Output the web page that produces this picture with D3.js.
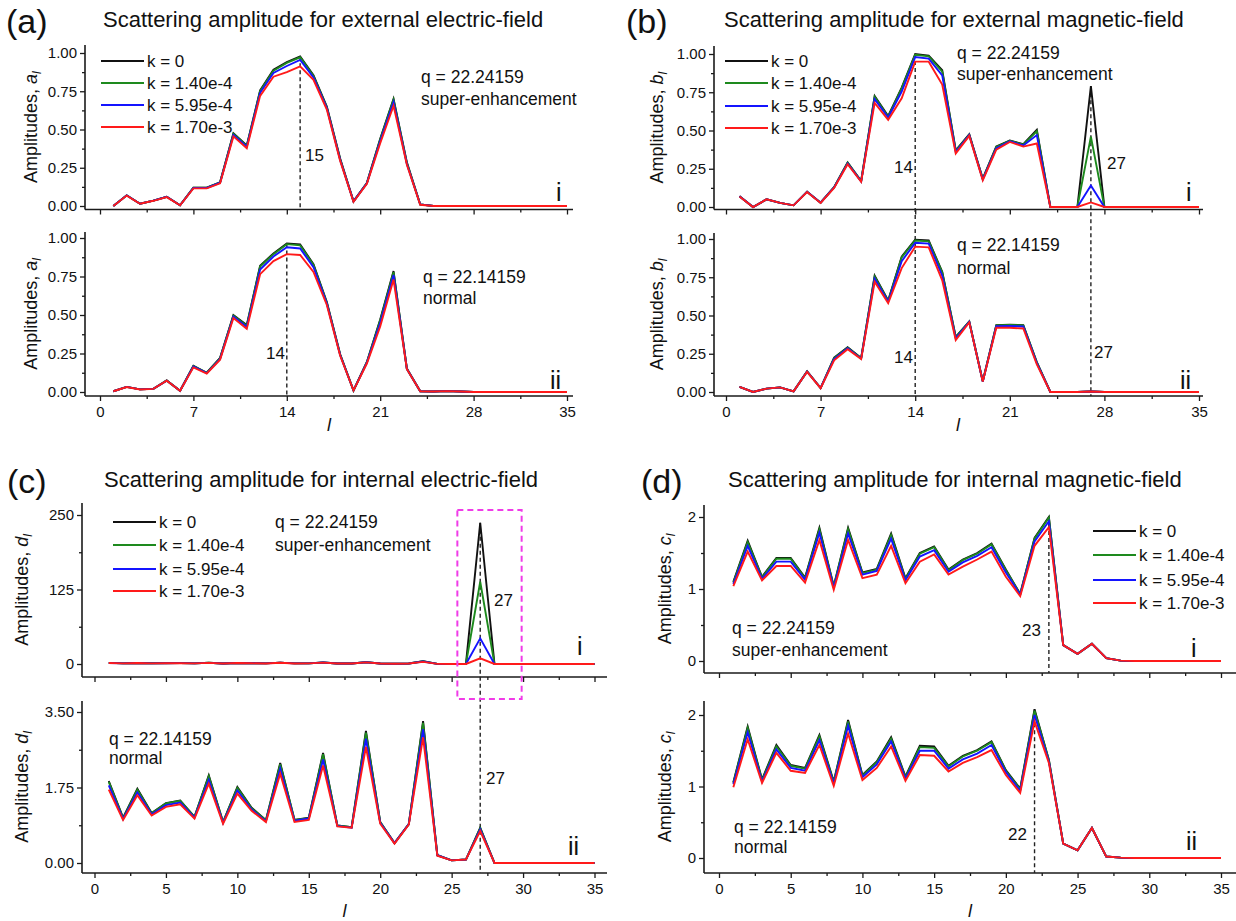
<!DOCTYPE html>
<html>
<head>
<meta charset="utf-8">
<title>Scattering amplitudes</title>
<style>
  body { margin: 0; background: #fff; }
  svg { display: block; font-family: "Liberation Sans", Arial, Helvetica, sans-serif; }
</style>
</head>
<body>
<div id="chart"></div>
<script src="https://d3js.org/d3.v7.min.js"></script>
<script>
// mode index l (x values shared by every panel)
const lValues = [1, 2, 3, 4, 5, 6, 7, 8, 9, 10, 11, 12, 13, 14, 15, 16, 17, 18, 19, 20,
                 21, 22, 23, 24, 25, 26, 27, 28, 29, 30, 31, 32, 33, 34, 35];

const seriesNames = ["k = 0", "k = 1.40e-4", "k = 5.95e-4", "k = 1.70e-3"];
const seriesColors = ["#111111", "#1e8a1e", "#1414ff", "#ff1a1a"];

// each panel: rows are k = 0, 1.40e-4, 5.95e-4, 1.70e-3
// (a) i  external electric, q = 22.24159
const extElecSuper = [
  [0.000, 0.070, 0.015, 0.035, 0.060, 0.005, 0.120, 0.120, 0.155, 0.475, 0.395, 0.755, 0.890, 0.940, 0.978, 0.855, 0.650, 0.310, 0.030, 0.150, 0.440, 0.700, 0.285, 0.010, 0, 0, 0, 0, 0, 0, 0, 0, 0, 0, 0],
  [0.000, 0.070, 0.015, 0.035, 0.060, 0.005, 0.120, 0.120, 0.155, 0.472, 0.392, 0.750, 0.885, 0.935, 0.972, 0.850, 0.645, 0.305, 0.030, 0.150, 0.435, 0.695, 0.280, 0.010, 0, 0, 0, 0, 0, 0, 0, 0, 0, 0, 0],
  [0.000, 0.070, 0.015, 0.035, 0.060, 0.005, 0.118, 0.118, 0.152, 0.465, 0.387, 0.740, 0.870, 0.915, 0.955, 0.840, 0.640, 0.300, 0.030, 0.148, 0.425, 0.680, 0.275, 0.010, 0, 0, 0, 0, 0, 0, 0, 0, 0, 0, 0],
  [0.000, 0.068, 0.015, 0.034, 0.058, 0.005, 0.115, 0.115, 0.148, 0.455, 0.378, 0.720, 0.845, 0.875, 0.913, 0.825, 0.630, 0.295, 0.028, 0.145, 0.410, 0.655, 0.270, 0.008, 0, 0, 0, 0, 0, 0, 0, 0, 0, 0, 0]
];
// (a) ii  external electric, q = 22.14159
const extElecNormal = [
  [0.005, 0.033, 0.017, 0.020, 0.075, 0.008, 0.170, 0.125, 0.222, 0.500, 0.435, 0.820, 0.900, 0.965, 0.958, 0.830, 0.585, 0.245, 0.010, 0.195, 0.470, 0.785, 0.152, 0.005, 0.003, 0.006, 0.003, 0, 0, 0, 0, 0, 0, 0, 0],
  [0.005, 0.033, 0.017, 0.020, 0.075, 0.008, 0.168, 0.125, 0.220, 0.497, 0.430, 0.815, 0.895, 0.960, 0.952, 0.825, 0.580, 0.243, 0.010, 0.193, 0.465, 0.778, 0.150, 0.005, 0.003, 0.006, 0.003, 0, 0, 0, 0, 0, 0, 0, 0],
  [0.005, 0.033, 0.017, 0.020, 0.074, 0.008, 0.165, 0.123, 0.215, 0.490, 0.422, 0.795, 0.880, 0.940, 0.932, 0.810, 0.575, 0.240, 0.010, 0.190, 0.450, 0.760, 0.150, 0.005, 0.003, 0.006, 0.003, 0, 0, 0, 0, 0, 0, 0, 0],
  [0.005, 0.032, 0.016, 0.020, 0.073, 0.008, 0.160, 0.120, 0.210, 0.480, 0.410, 0.765, 0.850, 0.895, 0.890, 0.780, 0.565, 0.235, 0.010, 0.185, 0.425, 0.730, 0.148, 0.005, 0.003, 0.006, 0.003, 0, 0, 0, 0, 0, 0, 0, 0]
];
// (b) i  external magnetic, q = 22.24159
const extMagSuper = [
  [0.070, 0, 0.050, 0.027, 0.011, 0.100, 0.028, 0.130, 0.290, 0.170, 0.725, 0.595, 0.780, 1.000, 0.990, 0.895, 0.370, 0.475, 0.185, 0.395, 0.435, 0.410, 0.505, 0, 0, 0, 0.790, 0, 0, 0, 0, 0, 0, 0, 0],
  [0.070, 0, 0.050, 0.027, 0.011, 0.100, 0.028, 0.130, 0.290, 0.170, 0.720, 0.590, 0.775, 0.995, 0.985, 0.885, 0.368, 0.473, 0.184, 0.392, 0.433, 0.408, 0.495, 0, 0, 0, 0.460, 0, 0, 0, 0, 0, 0, 0, 0],
  [0.070, 0, 0.050, 0.027, 0.011, 0.100, 0.028, 0.128, 0.285, 0.168, 0.705, 0.585, 0.755, 0.980, 0.970, 0.860, 0.360, 0.470, 0.180, 0.385, 0.430, 0.402, 0.470, 0, 0, 0, 0.140, 0, 0, 0, 0, 0, 0, 0, 0],
  [0.068, 0, 0.050, 0.027, 0.011, 0.098, 0.027, 0.125, 0.280, 0.165, 0.680, 0.570, 0.710, 0.950, 0.950, 0.800, 0.350, 0.465, 0.175, 0.375, 0.425, 0.395, 0.415, 0, 0, 0, 0.030, 0, 0, 0, 0, 0, 0, 0, 0]
];
// (b) ii  external magnetic, q = 22.14159
const extMagNormal = [
  [0.033, 0, 0.022, 0.030, 0.004, 0.135, 0.026, 0.225, 0.292, 0.222, 0.760, 0.598, 0.885, 0.995, 0.990, 0.785, 0.360, 0.460, 0.070, 0.437, 0.440, 0.437, 0.195, 0, 0, 0, 0.003, 0, 0, 0, 0, 0, 0, 0, 0],
  [0.033, 0, 0.022, 0.030, 0.004, 0.135, 0.026, 0.222, 0.290, 0.221, 0.755, 0.595, 0.880, 0.990, 0.985, 0.780, 0.358, 0.460, 0.070, 0.435, 0.438, 0.435, 0.193, 0, 0, 0, 0.003, 0, 0, 0, 0, 0, 0, 0, 0],
  [0.033, 0, 0.022, 0.030, 0.004, 0.134, 0.026, 0.215, 0.286, 0.218, 0.740, 0.590, 0.855, 0.975, 0.970, 0.760, 0.350, 0.458, 0.069, 0.430, 0.432, 0.428, 0.188, 0, 0, 0, 0.003, 0, 0, 0, 0, 0, 0, 0, 0],
  [0.033, 0, 0.022, 0.030, 0.004, 0.132, 0.025, 0.207, 0.280, 0.215, 0.720, 0.580, 0.810, 0.950, 0.945, 0.730, 0.340, 0.455, 0.068, 0.420, 0.420, 0.415, 0.180, 0, 0, 0, 0.003, 0, 0, 0, 0, 0, 0, 0, 0]
];
// (c) i  internal electric, q = 22.24159
const intElecSuper = [
  [1.90, 1.05, 1.72, 1.16, 1.39, 1.45, 1.07, 2.03, 0.95, 1.76, 1.28, 0.99, 2.32, 1.00, 1.05, 2.55, 0.87, 0.83, 3.06, 0.95, 0.46, 0.90, 4.80, 0.20, 0.06, 0.10, 237, 0, 0, 0, 0, 0, 0, 0, 0],
  [1.88, 1.04, 1.70, 1.15, 1.38, 1.44, 1.07, 2.01, 0.95, 1.74, 1.27, 0.99, 2.29, 1.00, 1.04, 2.52, 0.87, 0.83, 3.02, 0.95, 0.46, 0.90, 4.60, 0.20, 0.06, 0.10, 138, 0, 0, 0, 0, 0, 0, 0, 0],
  [1.80, 1.02, 1.64, 1.13, 1.34, 1.40, 1.05, 1.93, 0.93, 1.68, 1.24, 0.97, 2.19, 0.98, 1.03, 2.40, 0.86, 0.82, 2.88, 0.93, 0.46, 0.90, 4.20, 0.19, 0.06, 0.10, 43, 0, 0, 0, 0, 0, 0, 0, 0],
  [1.70, 1.00, 1.57, 1.10, 1.30, 1.36, 1.03, 1.84, 0.91, 1.61, 1.21, 0.95, 2.07, 0.95, 1.00, 2.26, 0.85, 0.82, 2.69, 0.91, 0.45, 0.89, 3.60, 0.17, 0.06, 0.08, 9.5, 0, 0, 0, 0, 0, 0, 0, 0]
];
// (c) ii  internal electric, q = 22.14159
const intElecNormal = [
  [1.90, 1.05, 1.72, 1.16, 1.39, 1.45, 1.07, 2.03, 0.95, 1.76, 1.28, 0.99, 2.32, 1.00, 1.05, 2.55, 0.87, 0.83, 3.06, 0.95, 0.46, 0.90, 3.29, 0.18, 0.06, 0.08, 0.82, 0, 0, 0, 0, 0, 0, 0, 0],
  [1.88, 1.04, 1.70, 1.15, 1.38, 1.44, 1.07, 2.01, 0.95, 1.74, 1.27, 0.99, 2.29, 1.00, 1.04, 2.52, 0.87, 0.83, 3.02, 0.95, 0.46, 0.90, 3.25, 0.18, 0.06, 0.08, 0.81, 0, 0, 0, 0, 0, 0, 0, 0],
  [1.80, 1.02, 1.64, 1.13, 1.34, 1.40, 1.05, 1.93, 0.93, 1.68, 1.24, 0.97, 2.19, 0.98, 1.03, 2.40, 0.86, 0.82, 2.88, 0.93, 0.46, 0.90, 3.10, 0.18, 0.06, 0.08, 0.78, 0, 0, 0, 0, 0, 0, 0, 0],
  [1.70, 1.00, 1.57, 1.10, 1.30, 1.36, 1.03, 1.84, 0.91, 1.61, 1.21, 0.95, 2.07, 0.95, 1.00, 2.26, 0.85, 0.82, 2.69, 0.91, 0.45, 0.89, 2.91, 0.17, 0.06, 0.08, 0.74, 0, 0, 0, 0, 0, 0, 0, 0]
];
// (d) i  internal magnetic, q = 22.24159
const intMagSuper = [
  [1.10, 1.67, 1.17, 1.43, 1.43, 1.16, 1.85, 1.04, 1.85, 1.23, 1.28, 1.77, 1.15, 1.50, 1.59, 1.27, 1.41, 1.50, 1.63, 1.27, 0.93, 1.71, 2.00, 0.22, 0.10, 0.24, 0.04, 0.005, 0, 0, 0, 0, 0, 0, 0],
  [1.09, 1.65, 1.16, 1.42, 1.42, 1.15, 1.83, 1.04, 1.83, 1.22, 1.27, 1.75, 1.14, 1.49, 1.58, 1.26, 1.40, 1.49, 1.62, 1.26, 0.93, 1.70, 1.99, 0.22, 0.10, 0.24, 0.04, 0.005, 0, 0, 0, 0, 0, 0, 0],
  [1.07, 1.60, 1.14, 1.38, 1.38, 1.13, 1.78, 1.02, 1.77, 1.20, 1.25, 1.70, 1.12, 1.45, 1.54, 1.24, 1.37, 1.46, 1.58, 1.23, 0.92, 1.66, 1.94, 0.22, 0.10, 0.24, 0.04, 0.005, 0, 0, 0, 0, 0, 0, 0],
  [1.04, 1.52, 1.12, 1.32, 1.32, 1.09, 1.68, 0.99, 1.68, 1.15, 1.20, 1.60, 1.08, 1.38, 1.48, 1.20, 1.31, 1.41, 1.52, 1.17, 0.90, 1.60, 1.86, 0.22, 0.10, 0.24, 0.04, 0.005, 0, 0, 0, 0, 0, 0, 0]
];
// (d) ii  internal magnetic, q = 22.14159
const intMagNormal = [
  [1.06, 1.84, 1.10, 1.58, 1.30, 1.26, 1.72, 1.07, 1.93, 1.16, 1.35, 1.69, 1.14, 1.57, 1.56, 1.29, 1.43, 1.51, 1.63, 1.23, 0.97, 2.08, 1.37, 0.20, 0.107, 0.42, 0.02, 0.005, 0, 0, 0, 0, 0, 0, 0],
  [1.05, 1.82, 1.09, 1.56, 1.29, 1.25, 1.70, 1.06, 1.91, 1.15, 1.34, 1.67, 1.13, 1.55, 1.54, 1.28, 1.42, 1.50, 1.62, 1.22, 0.96, 2.06, 1.37, 0.20, 0.107, 0.42, 0.02, 0.005, 0, 0, 0, 0, 0, 0, 0],
  [1.03, 1.76, 1.07, 1.52, 1.26, 1.22, 1.65, 1.04, 1.85, 1.13, 1.31, 1.63, 1.11, 1.50, 1.50, 1.25, 1.38, 1.46, 1.58, 1.20, 0.94, 2.00, 1.35, 0.20, 0.107, 0.42, 0.02, 0.005, 0, 0, 0, 0, 0, 0, 0],
  [0.99, 1.66, 1.05, 1.47, 1.22, 1.19, 1.58, 1.01, 1.74, 1.09, 1.26, 1.56, 1.08, 1.44, 1.43, 1.21, 1.33, 1.41, 1.51, 1.16, 0.91, 1.91, 1.33, 0.20, 0.107, 0.42, 0.02, 0.005, 0, 0, 0, 0, 0, 0, 0]
];

// tick labels
const extTicksX = [0, 7, 14, 21, 28, 35];
const extMinorX = [3.5, 10.5, 17.5, 24.5, 31.5];
const intTicksX = [0, 5, 10, 15, 20, 25, 30, 35];
const intMinorX = [2.5, 7.5, 12.5, 17.5, 22.5, 27.5, 32.5];
const extTicksY = [0, 0.25, 0.5, 0.75, 1];
const extMinorY = [0.125, 0.375, 0.625, 0.875];
const dSuperTicksY = [0, 125, 250];
const dSuperMinorY = [62.5, 187.5];
const dNormalTicksY = [0, 1.75, 3.5];
const dNormalMinorY = [0.875, 2.625];
const cTicksY = [0, 1, 2];
const cMinorY = [0.5, 1.5];

const AXIS = "#1a1a1a";
const TEXT = "#111";

const svg = d3.select("#chart").append("svg")
    .attr("width", 1236)
    .attr("height", 921);

svg.append("rect").attr("width", 1236).attr("height", 921).attr("fill", "#fff");

function styleAxis(sel) {
    sel.selectAll(".tick line").attr("stroke", AXIS).attr("stroke-width", 1.3);
    sel.selectAll(".tick text")
        .attr("fill", TEXT)
        .style("font-size", "15px")
        .style("font-family", '"Liberation Sans", Arial, sans-serif');
    sel.select(".domain").remove();
}

function addText(x, y, str, size, opts = {}) {
    return svg.append("text")
        .attr("x", x).attr("y", y)
        .attr("fill", TEXT)
        .attr("text-anchor", opts.anchor || "start")
        .style("font-size", size + "px")
        .style("font-style", opts.italic ? "italic" : "normal")
        .text(str);
}

// one sub-plot (i or ii) of a panel
function drawSubplot(o) {
    const g = svg.append("g");
    const x = d3.scaleLinear().domain([0, 35]).range([o.x0, o.x35]);
    const y = d3.scaleLinear().domain([0, o.yMax]).range([o.yZeroPx, o.yMaxPx]);

    // x axis (outward ticks)
    g.append("g").attr("transform", `translate(0,${o.axisY})`)
        .call(d3.axisBottom(x).tickValues(o.xMinor).tickSize(3).tickFormat(""))
        .call(styleAxis);
    g.append("g").attr("transform", `translate(0,${o.axisY})`)
        .call(d3.axisBottom(x).tickValues(o.xTicks).tickSize(5).tickPadding(5)
            .tickFormat(o.xLabels ? d3.format("d") : ""))
        .call(styleAxis);
    g.append("line")
        .attr("x1", o.axisX).attr("x2", o.axisRight)
        .attr("y1", o.axisY).attr("y2", o.axisY)
        .attr("stroke", AXIS).attr("stroke-width", 1.6);

    // y axis
    g.append("g").attr("transform", `translate(${o.axisX},0)`)
        .call(d3.axisLeft(y).tickValues(o.yMinor).tickSize(3).tickFormat(""))
        .call(styleAxis);
    g.append("g").attr("transform", `translate(${o.axisX},0)`)
        .call(d3.axisLeft(y).tickValues(o.yTicks).tickSize(5).tickPadding(3)
            .tickFormat(d3.format(o.yFmt)))
        .call(styleAxis);
    g.append("line")
        .attr("x1", o.axisX).attr("x2", o.axisX)
        .attr("y1", o.axisY).attr("y2", o.axisTop)
        .attr("stroke", AXIS).attr("stroke-width", 1.6);

    // y axis title
    const t = svg.append("text")
        .attr("transform", `translate(${o.labelX},${(o.axisY + o.axisTop) / 2}) rotate(-90)`)
        .attr("text-anchor", "middle")
        .attr("dy", "0.35em")
        .attr("fill", TEXT)
        .style("font-size", "18px");
    t.append("tspan").text("Amplitudes, ");
    t.append("tspan").style("font-style", "italic").text(o.letter);
    t.append("tspan").style("font-style", "italic").style("font-size", "12px")
        .attr("dy", 4).text("l");

    o.x = x;
    o.y = y;
    return o;
}

function drawSeries(sub, rows) {
    const line = d3.line()
        .x((d, i) => sub.x(lValues[i]))
        .y(d => sub.y(d));
    rows.forEach((row, k) => {
        svg.append("path")
            .datum(row)
            .attr("d", line)
            .attr("fill", "none")
            .attr("stroke", seriesColors[k])
            .attr("stroke-width", 1.9)
            .attr("stroke-linejoin", "miter");
    });
}

function dashed(sub, l, yTopPx, yBottomPx) {
    svg.append("line")
        .attr("x1", sub.x(l)).attr("x2", sub.x(l))
        .attr("y1", yTopPx).attr("y2", yBottomPx)
        .attr("stroke", "#222").attr("stroke-width", 1.4)
        .attr("stroke-dasharray", "4,3");
}

function legend(x0, rows) {
    seriesNames.forEach((name, k) => {
        svg.append("line")
            .attr("x1", x0).attr("x2", x0 + 43)
            .attr("y1", rows[k]).attr("y2", rows[k])
            .attr("stroke", seriesColors[k]).attr("stroke-width", 2.2);
        addText(x0 + 46, rows[k] + 6, name, 17);
    });
}

function header(letter, lx, tx, base, title) {
    addText(lx, base + 6, "(" + letter + ")", 34);
    addText(tx, base, title, 22);
}

// ---------- (a) external electric ----------
header("a", 6, 103, 27, "Scattering amplitude for external electric-field");
const aCommon = { x0: 100, x35: 567, axisX: 85, axisRight: 573, xTicks: extTicksX, xMinor: extMinorX,
    yMax: 1, yTicks: extTicksY, yMinor: extMinorY, yFmt: ".2f", labelX: 31, letter: "a" };
const a1 = drawSubplot({ ...aCommon, yZeroPx: 206, yMaxPx: 53, axisY: 209.5, axisTop: 45, xLabels: false });
const a2 = drawSubplot({ ...aCommon, yZeroPx: 392, yMaxPx: 238, axisY: 396, axisTop: 232, xLabels: true });
dashed(a1, 15, a1.y(extElecSuper[0][14]), 209.5);
dashed(a2, 14, a2.y(extElecNormal[0][13]), 396);
drawSeries(a1, extElecSuper);
drawSeries(a2, extElecNormal);
legend(101, [61, 83, 105, 127]);
addText(421, 83, "q = 22.24159", 17.5);
addText(421, 105, "super-enhancement", 17.5);
addText(305, 161, "15", 17);
addText(556, 201, "i", 25);
addText(423, 283, "q = 22.14159", 17.5);
addText(423, 304, "normal", 17.5);
addText(266, 359, "14", 17);
addText(550, 389, "ii", 25);
addText(329, 431, "l", 18, { anchor: "middle", italic: true });

// ---------- (b) external magnetic ----------
header("b", 626, 724, 27, "Scattering amplitude for external magnetic-field");
const bCommon = { x0: 726, x35: 1199, axisX: 714, axisRight: 1203, xTicks: extTicksX, xMinor: extMinorX,
    yMax: 1, yTicks: extTicksY, yMinor: extMinorY, yFmt: ".2f", labelX: 657, letter: "b" };
const b1 = drawSubplot({ ...bCommon, yZeroPx: 207, yMaxPx: 54, axisY: 209.5, axisTop: 46, xLabels: false });
const b2 = drawSubplot({ ...bCommon, yZeroPx: 392, yMaxPx: 239, axisY: 396, axisTop: 233, xLabels: true });
dashed(b1, 14, b1.y(extMagSuper[0][13]), 396);
dashed(b1, 27, b1.y(extMagSuper[0][26]), 396);
drawSeries(b1, extMagSuper);
drawSeries(b2, extMagNormal);
legend(725, [61, 83, 106, 128]);
addText(957, 59, "q = 22.24159", 17.5);
addText(957, 80, "super-enhancement", 17.5);
addText(894, 173, "14", 17);
addText(1107, 169, "27", 17);
addText(1186, 201, "i", 25);
addText(957, 251, "q = 22.14159", 17.5);
addText(957, 274, "normal", 17.5);
addText(894, 363, "14", 17);
addText(1094, 358, "27", 17);
addText(1180, 389, "ii", 25);
addText(958, 431, "l", 18, { anchor: "middle", italic: true });

// ---------- (c) internal electric ----------
header("c", 7, 104, 487, "Scattering amplitude for internal electric-field");
const cCommon = { x0: 94.5, x35: 594.5, axisX: 82, axisRight: 607, xTicks: intTicksX, xMinor: intMinorX,
    labelX: 22, letter: "d" };
const c1 = drawSubplot({ ...cCommon, yMax: 250, yTicks: dSuperTicksY, yMinor: dSuperMinorY, yFmt: "d",
    yZeroPx: 664, yMaxPx: 515, axisY: 677, axisTop: 503, xLabels: false });
const c2 = drawSubplot({ ...cCommon, yMax: 3.5, yTicks: dNormalTicksY, yMinor: dNormalMinorY, yFmt: ".2f",
    yZeroPx: 863, yMaxPx: 712, axisY: 873, axisTop: 701, xLabels: true });
dashed(c1, 27, c1.y(intElecSuper[0][26]), 873);
drawSeries(c1, intElecSuper);
drawSeries(c2, intElecNormal);
svg.append("rect")
    .attr("x", c1.x(25.4)).attr("y", 510)
    .attr("width", c1.x(29.9) - c1.x(25.4)).attr("height", 189)
    .attr("fill", "none").attr("stroke", "#f03ce8").attr("stroke-width", 2)
    .attr("stroke-dasharray", "6,4");
legend(113, [522, 545, 569, 591]);
addText(275, 528, "q = 22.24159", 17.5);
addText(275, 551, "super-enhancement", 17.5);
addText(494, 606, "27", 17);
addText(577, 655, "i", 25);
addText(109, 745, "q = 22.14159", 17.5);
addText(109, 764, "normal", 17.5);
addText(486, 784, "27", 17);
addText(568, 855, "ii", 25);
addText(344.5, 917, "l", 18, { anchor: "middle", italic: true });

// ---------- (d) internal magnetic ----------
header("d", 641, 728, 487, "Scattering amplitude for internal magnetic-field");
const dCommon = { x0: 719, x35: 1221, axisX: 704, axisRight: 1236, xTicks: intTicksX, xMinor: intMinorX,
    yMax: 2, yTicks: cTicksY, yMinor: cMinorY, yFmt: "d", labelX: 665, letter: "c" };
const d1 = drawSubplot({ ...dCommon, yZeroPx: 661, yMaxPx: 517, axisY: 673, axisTop: 505, xLabels: false });
const d2 = drawSubplot({ ...dCommon, yZeroPx: 858, yMaxPx: 715, axisY: 873, axisTop: 701, xLabels: true });
dashed(d1, 23, d1.y(intMagSuper[0][22]), 673);
dashed(d2, 22, d2.y(intMagNormal[0][21]), 873);
drawSeries(d1, intMagSuper);
drawSeries(d2, intMagNormal);
legend(1093, [531, 555, 580, 603]);
addText(732, 634, "q = 22.24159", 17.5);
addText(732, 656, "super-enhancement", 17.5);
addText(1022, 636, "23", 17);
addText(1191, 657, "i", 25);
addText(734, 833, "q = 22.14159", 17.5);
addText(734, 853, "normal", 17.5);
addText(1008, 840, "22", 17);
addText(1186, 850, "ii", 25);
addText(970, 917, "l", 18, { anchor: "middle", italic: true });
</script>
</body>
</html>
